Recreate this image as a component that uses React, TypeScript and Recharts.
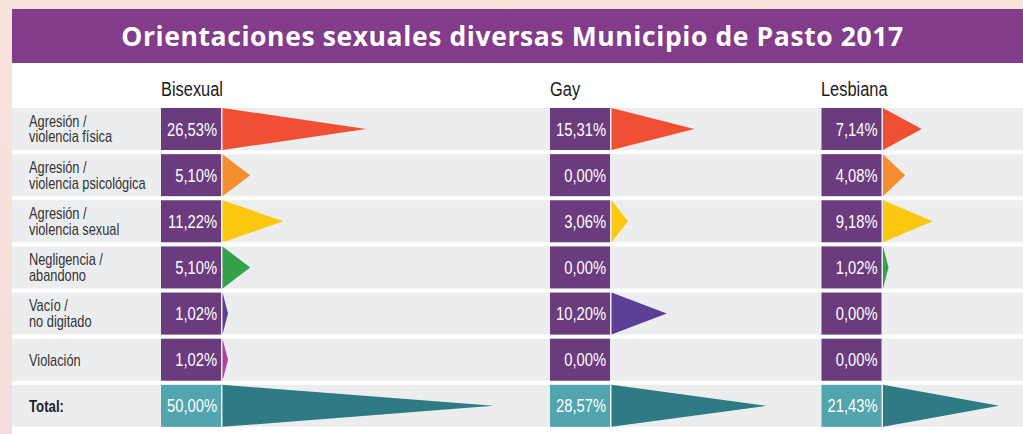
import { BarChart, Bar, XAxis, YAxis, LabelList } from 'recharts';

// filas del cuadro
const categories = [
  'Agresión /\nviolencia física',
  'Agresión /\nviolencia psicológica',
  'Agresión /\nviolencia sexual',
  'Negligencia /\nabandono',
  'Vacío /\nno digitado',
  'Violación',
  'Total:',
];
const seriesNames = ['Bisexual', 'Gay', 'Lesbiana'];
const bisexual = [26.53, 5.1, 11.22, 5.1, 1.02, 1.02, 50.0];
const gay = [15.31, 0, 3.06, 0, 10.2, 0, 28.57];
const lesbiana = [7.14, 4.08, 9.18, 1.02, 0, 0, 21.43];

const data = categories.map((label, i) => ({
  label,
  bisexual: bisexual[i],
  gay: gay[i],
  lesbiana: lesbiana[i],
}));

const ARROW_COLORS = ['#EF5033', '#F48E2F', '#FBC70F', '#34A04A', '#5C4096', '#B04397', '#2F7B84'];
const BOX_COLOR = '#6B3C7D';
const TOTAL_BOX_COLOR = '#52A5AE';
const BAND_COLOR = '#ECEDEF';
// no hay fuente condensada instalada: Liberation Sans comprimida en x
const FONT = '"Liberation Sans", Arial, sans-serif';
const SQUEEZE = 0.82;

const CHART_LEFT = 12;
const CHART_W = 1011;
const PX_PER_PCT = 5.42;
// donde empieza la flecha de cada columna (px dentro del grafico)
const colStarts = [210.5, 599.5, 871];
const keys = ['bisexual', 'gay', 'lesbiana'];
const axisIds = ['b', 'g', 'l'];

const domainFor = (start: number): [number, number] => [
  -start / PX_PER_PCT,
  (CHART_W - start) / PX_PER_PCT,
];

const fmt = (v: number) => v.toFixed(2).replace('.', ',') + '%';

const makeShape = (key: string) => (props: any) => {
  const { x, y, width, height, index, payload } = props;
  const v = payload[key] as number;
  const isTotal = index === categories.length - 1;
  const cy = y + height / 2;
  return (
    <g>
      <rect x={x - 61.5} y={y} width={60} height={height} fill={isTotal ? TOTAL_BOX_COLOR : BOX_COLOR} />
      <text
        transform={`translate(${x - 5.5},${cy + 6.5}) scale(${SQUEEZE},1)`}
        textAnchor="end"
        fill="#fff"
        fontSize={18}
        fontFamily={FONT}
      >
        {fmt(v)}
      </text>
      {width > 0 && (
        <polygon
          points={`${x},${y} ${x + width},${cy} ${x},${y + height}`}
          fill={ARROW_COLORS[index]}
        />
      )}
    </g>
  );
};

const RowLabel = (props: any) => {
  const { viewBox, value } = props;
  const cy = viewBox.y + viewBox.height / 2;
  const lines = String(value).split('\n');
  const isTotal = value === 'Total:';
  const first = lines.length > 1 ? cy - 2.5 : cy + 6;
  return (
    <text
      transform={`translate(17,${first}) scale(0.8,1)`}
      fontSize={isTotal ? 16.5 : 16}
      fill={isTotal ? '#222' : '#333'}
      fontFamily={FONT}
      fontWeight={isTotal ? 700 : 400}
    >
      {lines.map((l, i) => (
        <tspan key={i} x={0} y={i * 16}>
          {l}
        </tspan>
      ))}
    </text>
  );
};

export default function App() {
  return (
    <div
      style={{
        position: 'absolute',
        left: 0,
        top: 0,
        width: 1023,
        height: 434,
        overflow: 'hidden',
        background: 'linear-gradient(to bottom, #f9e3db, #f6dcdc)',
      }}
    >
      <div style={{ position: 'absolute', left: 12, top: 9, right: 0, bottom: 0, background: '#fff' }} />
      <div
        style={{
          position: 'absolute',
          left: 12,
          top: 9,
          width: 1011,
          height: 54,
          background: '#823C8A',
        }}
      />
      <div
        style={{
          position: 'absolute',
          left: 12,
          top: 18,
          width: 1011,
          color: '#fff',
          fontFamily: '"Open Sans", sans-serif',
          fontWeight: 700,
          fontSize: 26.5,
          letterSpacing: 0.6,
          lineHeight: '36px',
          textAlign: 'center',
          whiteSpace: 'nowrap',
        }}
      >
        <span style={{ position: 'relative', left: -5 }}>Orientaciones sexuales diversas Municipio de Pasto 2017</span>
      </div>
      {seriesNames.map((name, i) => (
        <div
          key={name}
          style={{
            position: 'absolute',
            left: CHART_LEFT + colStarts[i] - 62,
            top: 77,
            fontFamily: FONT,
            fontSize: 20,
            color: '#1a1a1a',
            lineHeight: '24px',
            transform: `scaleX(${SQUEEZE})`,
            transformOrigin: 'left top',
            whiteSpace: 'nowrap',
          }}
        >
          {name}
        </div>
      ))}
      <div style={{ position: 'absolute', left: CHART_LEFT, top: 0 }}>
        <BarChart
          width={CHART_W}
          height={434}
          data={data}
          layout="vertical"
          margin={{ top: 106, right: 0, bottom: 5, left: 0 }}
          barSize={42}
        >
          {axisIds.map((id, i) => (
            <XAxis
              key={id}
              xAxisId={id}
              type="number"
              domain={domainFor(colStarts[i])}
              allowDataOverflow
              hide
            />
          ))}
          {axisIds.map((id) => (
            <YAxis key={id} yAxisId={id} type="category" dataKey="label" hide />
          ))}
          {keys.map((k, i) => (
            <Bar
              key={k}
              dataKey={k}
              xAxisId={axisIds[i]}
              yAxisId={axisIds[i]}
              background={i === 0 ? { fill: BAND_COLOR } : undefined}
              shape={makeShape(k)}
              isAnimationActive={false}
            >
              {i === 0 && <LabelList dataKey="label" content={<RowLabel />} />}
            </Bar>
          ))}
        </BarChart>
      </div>
    </div>
  );
}
